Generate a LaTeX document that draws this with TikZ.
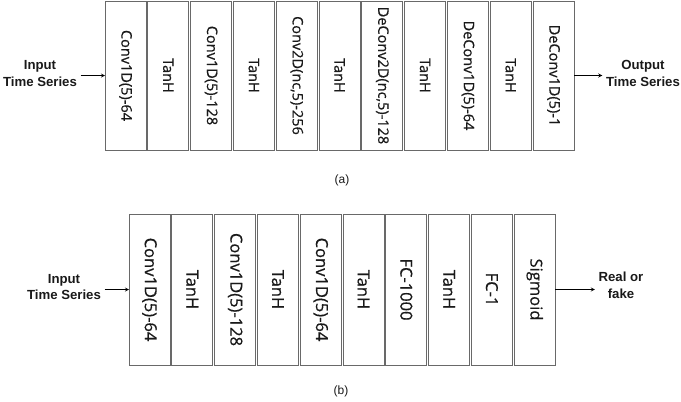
\documentclass[tikz,border=0pt]{standalone}
\usepackage{fontspec}
\setmainfont{Open Sans}
\newfontfamily\boxfont{Open Sans}[FakeBold=0.6]
\newfontfamily\labelfont{Liberation Sans}
\usepackage{color}
\definecolor{boxgray}{RGB}{105,105,105}
\definecolor{inkgray}{RGB}{25,25,25}
\usetikzlibrary{arrows,positioning}
\tikzstyle{layer}=[draw=boxgray,line width=0.9pt,minimum width=41pt,inner sep=0pt,outer sep=0pt,text=inkgray]
\tikzstyle{genlayer}=[layer,minimum height=149pt,font=\boxfont\fontsize{14.5}{16}\selectfont]
\tikzstyle{dislayer}=[layer,minimum height=151pt,font=\boxfont\fontsize{16.5}{18}\selectfont]
\tikzstyle{io}=[align=center,text=inkgray,font=\labelfont\bfseries\fontsize{13.2}{16.5}\selectfont]
\tikzstyle{caption}=[text=inkgray,font=\labelfont\fontsize{12}{14}\selectfont]
\newcommand{\vlabel}[1]{\rotatebox{-90}{#1}}

\begin{document}
\begin{tikzpicture}[x=1pt,y=-1pt,>=stealth,line width=0.8pt]
\useasboundingbox (0,0) rectangle (681,402);

% (a) generator
\node [genlayer] (g1) at (125.5,75.5) {\vlabel{Conv1D(5)-64}};
\node [genlayer] [right=1.8pt of g1] (g2) {\vlabel{TanH}};
\node [genlayer] [right=1.8pt of g2] (g3) {\vlabel{Conv1D(5)-128}};
\node [genlayer] [right=1.8pt of g3] (g4) {\vlabel{TanH}};
\node [genlayer] [right=1.8pt of g4] (g5) {\vlabel{Conv2D(nc,5)-256}};
\node [genlayer] [right=1.8pt of g5] (g6) {\vlabel{TanH}};
\node [genlayer] [right=1.8pt of g6] (g7) {\vlabel{DeConv2D(nc,5)-128}};
\node [genlayer] [right=1.8pt of g7] (g8) {\vlabel{TanH}};
\node [genlayer] [right=1.8pt of g8] (g9) {\vlabel{DeConv1D(5)-64}};
\node [genlayer] [right=1.8pt of g9] (g10) {\vlabel{TanH}};
\node [genlayer] [right=1.8pt of g10] (g11) {\vlabel{DeConv1D(5)-1}};

\node [io] (in1) at (40,73.5) {Input\\Time Series};
\node [io] (out1) at (643,73.5) {Output\\Time Series};
\draw [->] (in1.east |- g1.west) -- (g1.west);
\draw [->] (g11.east) -- (out1.west |- g11.east);

\node [caption] (capa) at (342,180) {(a)};

% (b) discriminator
\node [dislayer] (d1) at (149.5,289.5) {\vlabel{Conv1D(5)-64}};
\node [dislayer] [right=1.8pt of d1] (d2) {\vlabel{TanH}};
\node [dislayer] [right=1.8pt of d2] (d3) {\vlabel{Conv1D(5)-128}};
\node [dislayer] [right=1.8pt of d3] (d4) {\vlabel{TanH}};
\node [dislayer] [right=1.8pt of d4] (d5) {\vlabel{Conv1D(5)-64}};
\node [dislayer] [right=1.8pt of d5] (d6) {\vlabel{TanH}};
\node [dislayer] [right=1.8pt of d6] (d7) {\vlabel{FC-1000}};
\node [dislayer] [right=1.8pt of d7] (d8) {\vlabel{TanH}};
\node [dislayer] [right=1.8pt of d8] (d9) {\vlabel{FC-1}};
\node [dislayer] [right=1.8pt of d9] (d10) {\vlabel{Sigmoid}};

\node [io] (in2) at (64,287) {Input\\Time Series};
\node [io] (out2) at (621,285.5) {Real or\\fake};
\draw [->] (in2.east |- d1.west) -- (d1.west);
\draw [->] (d10.east) -- (out2.west |- d10.east);

\node [caption] (capb) at (341,391) {(b)};
\end{tikzpicture}
\end{document}
